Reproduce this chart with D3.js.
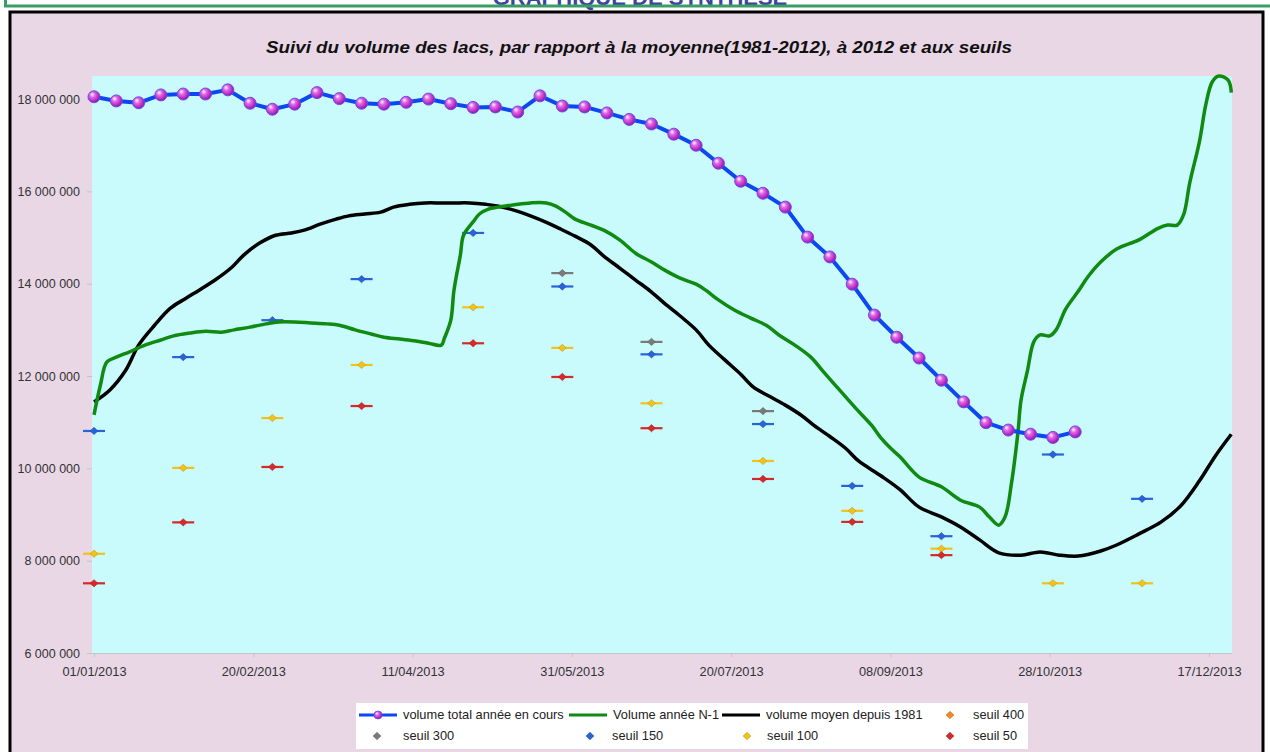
<!DOCTYPE html>
<html>
<head>
<meta charset="utf-8">
<script src="https://cdn.jsdelivr.net/npm/d3@7"></script>
<style>
  body { margin: 0; background: #fff; }
  svg { display: block; font-family: "Liberation Sans", Arial, sans-serif; }
</style>
</head>
<body>
<svg id="chart" width="1270" height="752"></svg>
<script>
// axis labels
var xTickLabels = ["01/01/2013", "20/02/2013", "11/04/2013", "31/05/2013", "20/07/2013", "08/09/2013", "28/10/2013", "17/12/2013"];
var yTicks = [6000000, 8000000, 10000000, 12000000, 14000000, 16000000, 18000000];

// volume total annee en cours (weekly)
var weekDates = ["01/01/2013", "08/01/2013", "15/01/2013", "22/01/2013", "29/01/2013", "05/02/2013", "12/02/2013", "19/02/2013", "26/02/2013",
    "05/03/2013", "12/03/2013", "19/03/2013", "26/03/2013", "02/04/2013", "09/04/2013", "16/04/2013", "23/04/2013", "30/04/2013",
    "07/05/2013", "14/05/2013", "21/05/2013", "28/05/2013", "04/06/2013", "11/06/2013", "18/06/2013", "25/06/2013",
    "02/07/2013", "09/07/2013", "16/07/2013", "23/07/2013", "30/07/2013", "06/08/2013", "13/08/2013", "20/08/2013", "27/08/2013",
    "03/09/2013", "10/09/2013", "17/09/2013", "24/09/2013", "01/10/2013", "08/10/2013", "15/10/2013", "22/10/2013", "29/10/2013", "05/11/2013"];
var volumeTotal = [18050000, 17960000, 17920000, 18090000, 18110000, 18110000, 18200000, 17910000, 17780000,
    17890000, 18140000, 18010000, 17910000, 17890000, 17930000, 18000000, 17900000, 17820000,
    17830000, 17720000, 18070000, 17850000, 17830000, 17700000, 17560000, 17460000,
    17240000, 17000000, 16610000, 16220000, 15960000, 15660000, 15010000, 14580000, 13990000,
    13320000, 12840000, 12390000, 11910000, 11440000, 10990000, 10830000, 10740000, 10670000, 10790000];

// volume annee N-1 (day of year, value)
var n1Days = [0, 2, 4, 7, 11, 16, 21, 25, 30, 35, 40, 44, 49, 54, 58, 63, 68, 73, 77, 82,
    87, 91, 96, 101, 105, 109, 110, 112, 113, 115, 116, 119, 121, 124, 127, 132, 137, 142, 145, 148,
    151, 156, 160, 165, 170, 175, 179, 184, 189, 192, 196, 201, 206, 211, 215, 220, 225, 229, 234, 239,
    244, 247, 250, 253, 259, 266, 272, 278, 281, 284, 286, 288, 290, 291, 293, 295, 297, 300, 302, 305,
    309, 312, 316, 321, 328, 334, 337, 340, 342, 344, 347, 349, 351, 353, 356, 357];
var n1Values = [11160000, 11800000, 12300000, 12410000, 12520000, 12670000, 12780000, 12870000, 12930000, 12970000,
    12950000, 13000000, 13060000, 13130000, 13170000, 13170000, 13150000, 13130000, 13100000, 13000000,
    12910000, 12840000, 12800000, 12760000, 12710000, 12670000, 12820000, 13210000, 13860000, 14620000,
    15050000, 15340000, 15510000, 15620000, 15660000, 15710000, 15750000, 15750000, 15680000, 15550000,
    15400000, 15270000, 15160000, 14950000, 14660000, 14470000, 14300000, 14120000, 13990000, 13860000,
    13650000, 13430000, 13260000, 13100000, 12890000, 12670000, 12410000, 12090000, 11700000, 11310000,
    10940000, 10660000, 10440000, 10250000, 9810000, 9600000, 9310000, 9160000, 8950000, 8770000,
    8950000, 9680000, 10760000, 11480000, 12110000, 12740000, 12890000, 12870000, 13000000, 13450000,
    13840000, 14150000, 14470000, 14750000, 14950000, 15200000, 15270000, 15270000, 15490000, 16200000,
    17080000, 17880000, 18370000, 18500000, 18410000, 18140000];

// volume moyen depuis 1981 (day of year, value)
var meanDays = [0, 5, 10, 14, 19, 24, 29, 33, 38, 43, 47, 52, 57, 62, 66, 71, 76, 80, 85, 90,
    94, 99, 104, 109, 113, 118, 123, 127, 132, 137, 142, 146, 151, 156, 160, 165, 170, 175, 179, 184,
    189, 193, 198, 203, 207, 212, 217, 222, 226, 231, 236, 240, 247, 253, 259, 266, 272, 278, 284, 291,
    297, 303, 309, 316, 321, 328, 335, 341, 347, 352, 357];
var meanValues = [11440000, 11700000, 12130000, 12670000, 13100000, 13470000, 13690000, 13860000, 14080000, 14340000,
    14620000, 14880000, 15050000, 15100000, 15160000, 15290000, 15400000, 15470000, 15510000, 15550000,
    15660000, 15720000, 15750000, 15750000, 15750000, 15750000, 15720000, 15680000, 15590000, 15470000,
    15330000, 15200000, 15030000, 14840000, 14600000, 14340000, 14080000, 13820000, 13580000, 13300000,
    13000000, 12670000, 12350000, 12040000, 11760000, 11560000, 11370000, 11150000, 10930000, 10690000,
    10430000, 10160000, 9840000, 9540000, 9160000, 8950000, 8730000, 8450000, 8170000, 8120000,
    8190000, 8120000, 8100000, 8210000, 8340000, 8580000, 8840000, 9180000, 9730000, 10270000, 10740000];

// seuils
var seuilDates = ["01/01/2013", "29/01/2013", "26/02/2013", "26/03/2013", "30/04/2013", "28/05/2013",
    "25/06/2013", "30/07/2013", "27/08/2013", "24/09/2013", "29/10/2013", "26/11/2013"];
var seuil400 = [null, null, null, null, null, null, null, null, null, null, null, null];
var seuil300 = [null, null, null, null, null, 14230000, 12740000, 11240000, null, null, null, null];
var seuil150 = [10810000, 12410000, 13210000, 14100000, 15100000, 13940000, 12470000, 10960000, 9620000, 8530000, 10300000, 9340000];
var seuil100 = [8150000, 10010000, 11090000, 12240000, 13490000, 12610000, 11410000, 10160000, 9080000, 8260000, 7510000, 7510000];
var seuil50 = [7510000, 8830000, 10030000, 11350000, 12710000, 11980000, 10870000, 9770000, 8840000, 8120000, null, null];

var parse = d3.timeParse("%d/%m/%Y");
var start = parse("01/01/2013");
var fmt = d3.formatLocale({ decimal: ",", thousands: " ", grouping: [3], currency: ["", " €"] }).format(",d");

var svg = d3.select("#chart");

// top header strip (cut off)
svg.append("rect").attr("x", 0).attr("y", 0).attr("width", 1270).attr("height", 12).attr("fill", "#fff");
svg.append("text")
    .attr("x", 640).attr("y", 5)
    .attr("text-anchor", "middle")
    .attr("font-size", 22).attr("font-weight", "bold")
    .attr("fill", "#3c44a0")
    .text("GRAPHIQUE DE SYNTHESE");
svg.append("path")
    .attr("d", "M5.5,0 V6 H1270")
    .attr("fill", "none").attr("stroke", "#3a9d66").attr("stroke-width", 3);

// chart frame
svg.append("rect")
    .attr("x", 10).attr("y", 12).attr("width", 1253).attr("height", 760)
    .attr("fill", "#e9d7e6").attr("stroke", "#000").attr("stroke-width", 3);

svg.append("text")
    .attr("x", 639).attr("y", 53)
    .attr("text-anchor", "middle")
    .attr("font-size", 16).attr("font-weight", "bold").attr("font-style", "italic")
    .attr("textLength", 746).attr("lengthAdjust", "spacingAndGlyphs")
    .attr("fill", "#111")
    .text("Suivi du volume des lacs, par rapport à la moyenne(1981-2012), à 2012 et aux seuils");

// plot area
var plotLeft = 92, plotRight = 1232, plotTop = 76, plotBottom = 653;
svg.append("rect")
    .attr("x", plotLeft).attr("y", plotTop).attr("width", plotRight - plotLeft).attr("height", plotBottom - plotTop)
    .attr("fill", "#c9fbfc");

var x = d3.scaleTime()
    .domain([parse(xTickLabels[0]), parse(xTickLabels[xTickLabels.length - 1])])
    .range([94, 1209]);
var y = d3.scaleLinear()
    .domain([6000000, 18500000])
    .range([plotBottom, plotTop]);

var yAxis = d3.axisLeft(y).tickValues(yTicks).tickFormat(fmt).tickSize(5).tickPadding(7);
var gy = svg.append("g").attr("transform", "translate(" + plotLeft + ",0)").call(yAxis);
gy.select(".domain").remove();
gy.selectAll(".tick line").attr("stroke", "#c4c4c4");
gy.selectAll("text").attr("font-size", 12.5).attr("fill", "#333").attr("font-family", "Liberation Sans, Arial, sans-serif");

var xAxis = d3.axisBottom(x)
    .tickValues(xTickLabels.map(parse))
    .tickFormat(d3.timeFormat("%d/%m/%Y"))
    .tickSize(4).tickPadding(10);
var gx = svg.append("g").attr("transform", "translate(0," + plotBottom + ")").call(xAxis);
gx.select(".domain").attr("d", "M" + plotLeft + ",0.5H" + plotRight).attr("stroke", "#c4c4c4");
gx.selectAll(".tick line").attr("stroke", "#c4c4c4");
gx.selectAll("text").attr("font-size", 12.8).attr("fill", "#333").attr("font-family", "Liberation Sans, Arial, sans-serif");

// gradient for the round markers
var defs = svg.append("defs");
var grad = defs.append("radialGradient").attr("id", "ball").attr("cx", "40%").attr("cy", "40%").attr("r", "60%").attr("fx", "35%").attr("fy", "30%");
grad.append("stop").attr("offset", "0%").attr("stop-color", "#ffffff");
grad.append("stop").attr("offset", "35%").attr("stop-color", "#e46ae6");
grad.append("stop").attr("offset", "100%").attr("stop-color", "#9a10b0");

// seuil markers
var seuils = [
    { name: "seuil 400", values: seuil400, color: "#f08a24" },
    { name: "seuil 300", values: seuil300, color: "#7a7a7a" },
    { name: "seuil 150", values: seuil150, color: "#2a62d8" },
    { name: "seuil 100", values: seuil100, color: "#f2c21a" },
    { name: "seuil 50", values: seuil50, color: "#d42a2a" }
];
var diamond = d3.symbol().type(d3.symbolDiamond).size(24);

function seuilMark(g, color, long) {
    if (long) {
        g.append("line").attr("x1", -11).attr("x2", 11).attr("y1", 0).attr("y2", 0)
            .attr("stroke", color).attr("stroke-width", 2.2);
    }
    g.append("path").attr("d", diamond()).attr("transform", "scale(1.5,0.8)").attr("fill", color)
        .attr("stroke", d3.color(color).darker(0.6)).attr("stroke-width", 0.5);
}

seuils.forEach(function (s) {
    var pts = seuilDates.map(function (d, i) { return { date: parse(d), v: s.values[i] }; })
        .filter(function (d) { return d.v !== null; });
    svg.append("g").selectAll("g")
        .data(pts)
        .enter().append("g")
        .attr("transform", function (d) { return "translate(" + x(d.date) + "," + y(d.v) + ")"; })
        .each(function () { seuilMark(d3.select(this), s.color, true); });
});

// smooth lines
var smooth = d3.line()
    .x(function (d) { return x(d.date); })
    .y(function (d) { return y(d.v); })
    .curve(d3.curveCatmullRom.alpha(0.5));

var meanData = meanDays.map(function (d, i) { return { date: d3.timeDay.offset(start, d), v: meanValues[i] }; });
var n1Data = n1Days.map(function (d, i) { return { date: d3.timeDay.offset(start, d), v: n1Values[i] }; });

svg.append("path").datum(meanData).attr("d", smooth)
    .attr("fill", "none").attr("stroke", "#000").attr("stroke-width", 3.5).attr("stroke-linejoin", "round");
svg.append("path").datum(n1Data).attr("d", smooth)
    .attr("fill", "none").attr("stroke", "#108a10").attr("stroke-width", 3.5).attr("stroke-linejoin", "round");

// current year
var totalData = weekDates.map(function (d, i) { return { date: parse(d), v: volumeTotal[i] }; });
var straight = d3.line()
    .x(function (d) { return x(d.date); })
    .y(function (d) { return y(d.v); });
svg.append("path").datum(totalData).attr("d", straight)
    .attr("fill", "none").attr("stroke", "#0d47f0").attr("stroke-width", 4).attr("stroke-linejoin", "round");
svg.append("g").selectAll("circle")
    .data(totalData)
    .enter().append("circle")
    .attr("cx", function (d) { return x(d.date); })
    .attr("cy", function (d) { return y(d.v); })
    .attr("r", 6)
    .attr("fill", "url(#ball)")
    .attr("stroke", "#6a4ee8").attr("stroke-width", 1);

// legend
var legend = svg.append("g").attr("font-size", 12.8).attr("fill", "#222");
legend.append("rect").attr("x", 356).attr("y", 703).attr("width", 672).attr("height", 46).attr("fill", "#fff");

var row1 = 715, row2 = 736;
legend.append("line").attr("x1", 359).attr("x2", 397).attr("y1", row1).attr("y2", row1).attr("stroke", "#0d47f0").attr("stroke-width", 3);
legend.append("circle").attr("cx", 378).attr("cy", row1).attr("r", 4).attr("fill", "url(#ball)").attr("stroke", "#6a4ee8").attr("stroke-width", 0.8);
legend.append("text").attr("x", 403).attr("y", row1 + 4).text("volume total année en cours");

legend.append("line").attr("x1", 569).attr("x2", 607).attr("y1", row1).attr("y2", row1).attr("stroke", "#108a10").attr("stroke-width", 3);
legend.append("text").attr("x", 613).attr("y", row1 + 4).text("Volume année N-1");

legend.append("line").attr("x1", 722).attr("x2", 760).attr("y1", row1).attr("y2", row1).attr("stroke", "#000").attr("stroke-width", 3);
legend.append("text").attr("x", 766).attr("y", row1 + 4).text("volume moyen depuis 1981");

var legSeuils = [
    { s: seuils[0], mx: 950, tx: 973, ry: row1 },
    { s: seuils[1], mx: 377, tx: 403, ry: row2 },
    { s: seuils[2], mx: 590, tx: 612, ry: row2 },
    { s: seuils[3], mx: 747, tx: 767, ry: row2 },
    { s: seuils[4], mx: 950, tx: 973, ry: row2 }
];
legSeuils.forEach(function (l) {
    var g = legend.append("g").attr("transform", "translate(" + l.mx + "," + l.ry + ")");
    seuilMark(g, l.s.color, false);
    legend.append("text").attr("x", l.tx).attr("y", l.ry + 4).text(l.s.name);
});
</script>
</body>
</html>
